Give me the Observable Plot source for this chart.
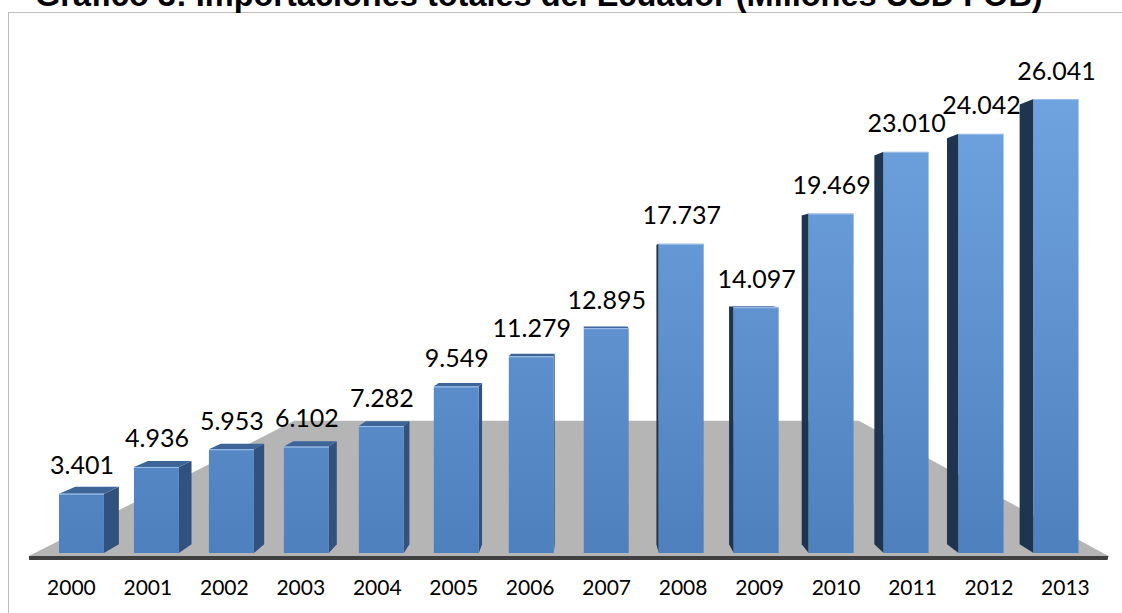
<!DOCTYPE html>
<html>
<head>
<meta charset="utf-8">
<script src="https://cdn.jsdelivr.net/npm/d3@7"></script>
<script src="https://cdn.jsdelivr.net/npm/@observablehq/plot@0.6"></script>
<style>
  html, body { margin: 0; padding: 0; background: #fff; overflow: hidden; }
  #wrap { position: relative; width: 1122px; height: 613px; overflow: hidden; }
  #frame { position: absolute; left: 8px; top: 12px; width: 1200px; height: 700px; border: 1px solid #bdbdbd; box-sizing: border-box; }
  #title { position: absolute; left: 35px; top: -21px; margin: 0; font: bold 32.5px "Liberation Sans", Arial, sans-serif; line-height: 32px; white-space: nowrap; color: #000; }
  #chart { position: absolute; left: 0; top: 0; }
</style>
</head>
<body>
<div id="wrap">
  <div id="frame"></div>
  <div id="chart"></div>
  <h2 id="title">Gráfico 3: Importaciones totales del Ecuador (Millones USD FOB)</h2>
</div>
<script>
// ---- data ----
const years = ["2000","2001","2002","2003","2004","2005","2006","2007","2008","2009","2010","2011","2012","2013"];
const imports = [3401, 4936, 5953, 6102, 7282, 9549, 11279, 12895, 17737, 14097, 19469, 23010, 24042, 26041];
const yDomain = [0, 30000];

const data = years.map((year, i) => ({year, value: imports[i]}));
const fmt = d3.formatLocale({decimal: ",", thousands: ".", grouping: [3], currency: ["$", ""]}).format(",d");

// 3D projection helpers (pseudo-perspective like the spreadsheet 3D column chart)
function vanishing(dim) {
  const left = dim.marginLeft, right = dim.width - dim.marginRight;
  const top = dim.marginTop, bottom = dim.height - dim.marginBottom;
  return {x: left + 0.515 * (right - left), y: top + 0.464 * (bottom - top)};
}
const svgNS = "http://www.w3.org/2000/svg";
function poly(pts, fill) {
  const p = document.createElementNS(svgNS, "polygon");
  p.setAttribute("points", pts.map(d => d.join(",")).join(" "));
  p.setAttribute("fill", fill);
  return p;
}
function bandwidthOf(x) { return typeof x.bandwidth === "function" ? x.bandwidth() : x.bandwidth; }

// floor + gradient definitions
function floorMark(index, scales, values, dim) {
  const g = document.createElementNS(svgNS, "g");
  const V = vanishing(dim);
  const [x0, x1] = scales.x.range();
  const yb = scales.y(0);
  const yTop = scales.y(d3.max(imports));
  const defs = document.createElementNS(svgNS, "defs");
  defs.innerHTML = `<linearGradient id="barGrad" gradientUnits="userSpaceOnUse" x1="0" x2="0" y1="${yTop}" y2="${yb}">
      <stop offset="0" stop-color="#6fa3df"/><stop offset="1" stop-color="#4e80be"/></linearGradient>`;
  g.appendChild(defs);
  const s = 0.523;
  const P = (x, y) => [V.x + s * (x - V.x), V.y + s * (y - V.y)];
  const fy = yb + 3;
  g.appendChild(poly([[x0, fy], [x1, fy], P(x1, fy), P(x0, fy)], "#b5b5b5"));
  g.appendChild(poly([[x0, fy], [x1, fy], [x1 - 1, fy + 4], [x0, fy + 4]], "#404040"));
  return g;
}

// side and top faces of the columns
function depthMark(index, scales, values, dim) {
  const g = document.createElementNS(svgNS, "g");
  const V = vanishing(dim);
  const bw = bandwidthOf(scales.x);
  const s = 0.969;
  const P = (x, y) => [V.x + s * (x - V.x), V.y + s * (y - V.y)];
  const yb = scales.y(0);
  data.forEach(d => {
    const x0 = scales.x(d.year), x1 = x0 + bw, yt = scales.y(d.value);
    if (x1 < V.x) {
      g.appendChild(poly([[x1, yt], P(x1, yt), P(x1, yb), [x1, yb]], "#31517e"));
    } else if (x0 > V.x) {
      g.appendChild(poly([[x0, yt], P(x0, yt), P(x0, yb), [x0, yb]], "#1f344f"));
    }
    if (yt > V.y) {
      g.appendChild(poly([[x0, yt], [x1, yt], P(x1, yt), P(x0, yt)], "#3d6598"));
    }
  });
  return g;
}

// category labels drawn on the front edge of the floor (slightly wider spread by perspective)
function yearAxis(index, scales, values, dim) {
  const g = document.createElementNS(svgNS, "g");
  const V = vanishing(dim);
  const bw = bandwidthOf(scales.x);
  const k = 1.02;
  const yb = scales.y(0);
  g.setAttribute("font-size", "21");
  g.setAttribute("text-anchor", "middle");
  g.setAttribute("fill", "#000");
  years.forEach(yr => {
    const cx = scales.x(yr) + bw / 2;
    const t = document.createElementNS(svgNS, "text");
    t.setAttribute("x", V.x + k * (cx - V.x));
    t.setAttribute("y", yb + 27);
    t.setAttribute("dy", "0.71em");
    t.textContent = yr;
    g.appendChild(t);
  });
  return g;
}

const chart = Plot.plot({
  width: 1122,
  height: 613,
  marginTop: 30,
  marginBottom: 60,
  marginLeft: 29,
  marginRight: 13.5,
  style: {fontFamily: "Lato, 'Open Sans', sans-serif", fontSize: "21px", color: "#000", background: "transparent", overflow: "visible"},
  x: {domain: years, padding: 0.4, round: false, axis: null},
  y: {domain: yDomain, axis: null},
  marks: [
    floorMark,
    depthMark,
    Plot.barY(data, {x: "year", y: "value", fill: "url(#barGrad)"}),
    Plot.tickY(data, {x: "year", y: "value", stroke: "#9fc0ea", strokeWidth: 1}),
    Plot.text(data, {x: "year", y: "value", text: d => fmt(d.value), lineAnchor: "bottom", dy: -20, fontSize: 25, fill: "#000"}),
    yearAxis
  ]
});
document.getElementById("chart").appendChild(chart);
</script>
</body>
</html>
